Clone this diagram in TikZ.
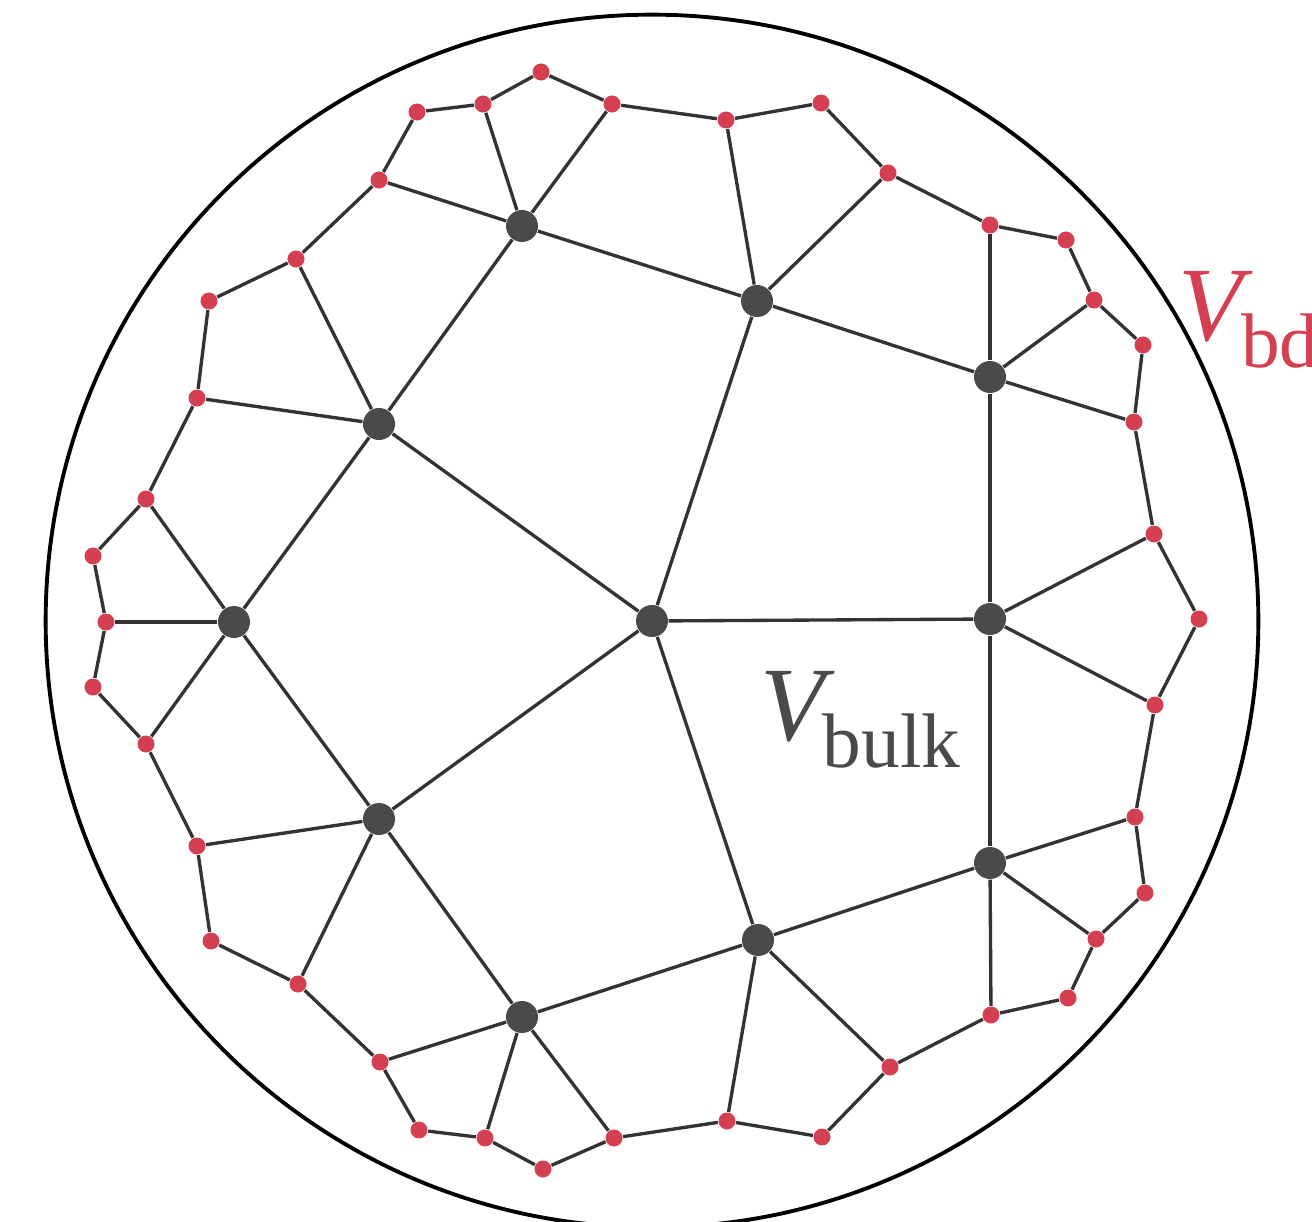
\documentclass[tikz,border=0pt]{standalone}
\usepackage{fontspec}
\setmainfont{Liberation Serif}
\usepackage{tikz}
\usetikzlibrary{backgrounds}
\definecolor{Bd}{HTML}{D53F52}
\definecolor{Bulk}{HTML}{4A4A4A}
\definecolor{Edge}{HTML}{333333}

\begin{document}
\begin{tikzpicture}[
    x=0.01cm, y=-0.01cm,
    bulk/.style={circle, fill=Bulk, inner sep=0pt, minimum size=0.32cm},
    bd/.style={circle, fill=Bd, inner sep=0pt, minimum size=0.17cm},
    link/.style={draw=Edge, line width=0.95pt},
    lbl/.style={anchor=base west, inner sep=0pt}
  ]
  \useasboundingbox (0,0) rectangle (1312,1221);
  \clip (0,0) rectangle (1312,1221);

  % bulk vertices
  \foreach \n/\x/\y in {c/652/621, b1/522/226, b2/757/301, b3/990/377, b4/379/424,
      b5/234/622, b6/990/619, b7/379/819, b8/990/863, b9/758/940, b10/522/1017}
    \node[bulk] (\n) at (\x,\y) {};

  % boundary vertices, counterclockwise from the top
  \foreach \x/\y [count=\i] in {541/72, 483/104, 417/112, 379/180, 296/259, 209/301,
      197/398, 146/499, 93/556, 106/622, 93/687, 146/744, 197/846, 211/941, 298/984,
      380/1062, 419/1130, 485/1138, 543/1169, 614/1138, 727/1121, 822/1137, 890/1067,
      991/1015, 1068/998, 1096/939, 1145/893, 1135/817, 1155/705, 1199/619, 1154/534,
      1134/422, 1143/345, 1094/300, 1066/240, 990/225, 888/173, 821/103, 726/120, 612/104}
    \node[bd] (r\i) at (\x,\y) {};

  \begin{scope}[on background layer]
    \foreach \i in {1,...,40} {
      \pgfmathtruncatemacro\j{mod(\i,40)+1}
      \draw[link] (r\i) -- (r\j);
    }
    \foreach \a/\b in {c/b4, c/b2, c/b6, c/b7, c/b9, b1/b4, b1/b2, b2/b3, b3/b6, b6/b8,
        b8/b9, b9/b10, b10/b7, b7/b5, b5/b4}
      \draw[link] (\a) -- (\b);
    \foreach \a/\b in {b1/r2, b1/r40, b1/r4, b2/r39, b2/r37, b3/r36, b3/r34, b3/r32,
        b4/r5, b4/r7, b5/r8, b5/r10, b5/r12, b6/r31, b6/r29, b7/r13, b7/r15,
        b8/r28, b8/r26, b8/r24, b9/r21, b9/r23, b10/r16, b10/r18, b10/r20}
      \draw[link] (\a) -- (\b);
  \end{scope}

  % outer disk
  \draw[line width=1.1pt] (c) circle[radius=6.06cm];

  \node[lbl, text=Bulk] (vbulk) at (760,740)
    {\fontsize{30}{30}\selectfont\textit{V}\kern-3.5pt\raisebox{-7.7pt}{\fontsize{22}{22}\selectfont bulk}};
  \node[lbl, text=Bd] (vbd) at (1178,340)
    {\fontsize{30}{30}\selectfont\textit{V}\kern-3.5pt\raisebox{-7.7pt}{\fontsize{22}{22}\selectfont bd}};
\end{tikzpicture}
\end{document}
